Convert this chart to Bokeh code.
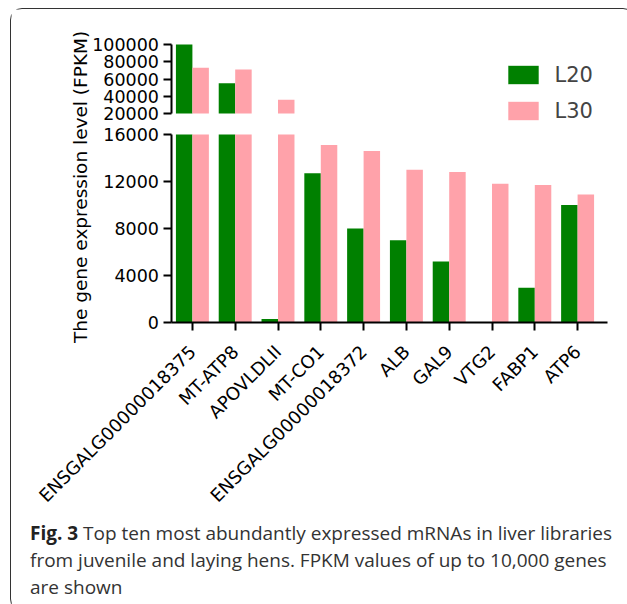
import numpy as np
from bokeh.plotting import figure
from bokeh.models import (Range1d, FixedTicker, Legend, LegendItem, Div, LinearAxis,
                          ColumnDataSource, Label, BasicTickFormatter)
from bokeh.layouts import column
from bokeh.transform import dodge
from bokeh.embed import file_html
from bokeh.resources import INLINE

# ---------------- data ----------------
genes = ["ENSGALG00000018375", "MT-ATP8", "APOVLDLII", "MT-CO1", "ENSGALG00000018372",
         "ALB", "GAL9", "VTG2", "FABP1", "ATP6"]
l20 = [100000, 55000, 300, 12700, 8000, 7000, 5200, 0, 2950, 10000]
l30 = [73000, 71000, 36000, 15100, 14600, 13000, 12800, 11800, 11700, 10900]
series = ["L20", "L30"]
lower_ticks = [0, 4000, 8000, 12000, 16000]
upper_ticks = [20000, 40000, 60000, 80000, 100000]
y_title = "The gene expression level  (FPKM)"
caption_bold = "Fig. 3"
caption_lines = ["Top ten most abundantly expressed mRNAs in liver libraries",
                 "from juvenile and laying hens. FPKM values of up to 10,000 genes",
                 "are shown"]

# ---------------- style / layout constants ----------------
GREEN = "#008000"
PINK = "#ffa2aa"
FONT = "DejaVu Sans"
BREAK_LOW, BREAK_HIGH, TOP = 16000, 20000, 100000

FIG_W, FIG_H = 613, 506
MB_LEFT, MB_TOP, MB_BOTTOM = 20, 10, 6
FRAME_H = FIG_H - MB_TOP - MB_BOTTOM
FRAME_W = 580
MB_RIGHT = FIG_W - MB_LEFT - FRAME_W
PX_PER_CAT = 42.8
AXIS_PX = 171 - 11.5 - MB_LEFT                  # px from frame left to the y axis
X_START = -AXIS_PX / PX_PER_CAT
X_END = X_START + FRAME_W / PX_PER_CAT
# vertical positions (px from frame top) of the axis break points
PX_TOP, PX_20K, PX_16K, PX_ZERO = 25, 94, 115, 303

low_scale = BREAK_LOW / (PX_ZERO - PX_16K)
low_range = Range1d(-(FRAME_H - PX_ZERO) * low_scale, PX_ZERO * low_scale)
up_scale = (TOP - BREAK_HIGH) / (PX_20K - PX_TOP)
up_range = Range1d(TOP - (FRAME_H - PX_TOP) * up_scale, TOP + PX_TOP * up_scale)

xs = [i + 0.5 for i in range(len(genes))]

p = figure(width=FIG_W, height=FIG_H, x_range=Range1d(X_START, X_END), y_range=low_range,
           output_backend="svg", toolbar_location=None,
           x_axis_location="below", y_axis_location=None,
           min_border_left=MB_LEFT, min_border_right=MB_RIGHT,
           min_border_top=MB_TOP, min_border_bottom=MB_BOTTOM)
p.extra_y_ranges = {"upper": up_range}
p.outline_line_color = None
p.grid.grid_line_color = None
p.background_fill_color = "white"
p.border_fill_color = "white"

W = 0.385
OFF = W / 2

low_src = ColumnDataSource(dict(x=xs,
                                l20=np.minimum(l20, BREAK_LOW),
                                l30=np.minimum(l30, BREAK_LOW)))
up20 = [(x, v) for x, v in zip(xs, l20) if v > BREAK_HIGH]
up30 = [(x, v) for x, v in zip(xs, l30) if v > BREAK_HIGH]
up20_src = ColumnDataSource(dict(x=[a for a, _ in up20], top=[v for _, v in up20]))
up30_src = ColumnDataSource(dict(x=[a for a, _ in up30], top=[v for _, v in up30]))

r20 = p.vbar(x=dodge("x", -OFF), top="l20", bottom=0, width=W,
             source=low_src, fill_color=GREEN, line_color=None)
r30 = p.vbar(x=dodge("x", OFF), top="l30", bottom=0, width=W,
             source=low_src, fill_color=PINK, line_color=None)
p.vbar(x=dodge("x", -OFF), top="top", bottom=BREAK_HIGH, width=W, source=up20_src,
       fill_color=GREEN, line_color=None, y_range_name="upper")
p.vbar(x=dodge("x", OFF), top="top", bottom=BREAK_HIGH, width=W, source=up30_src,
       fill_color=PINK, line_color=None, y_range_name="upper")


def style_axis(ax, size="17.5px", standoff=4):
    ax.axis_line_width = 2
    ax.axis_line_color = "black"
    ax.major_tick_line_width = 2
    ax.major_tick_line_color = "black"
    ax.major_tick_out = 8
    ax.major_tick_in = 0
    ax.minor_tick_line_color = None
    ax.major_label_text_font = FONT
    ax.major_label_text_font_size = size
    ax.major_label_text_color = "black"
    ax.major_label_standoff = standoff


ax_low = LinearAxis(ticker=FixedTicker(ticks=lower_ticks), bounds=(0, BREAK_LOW),
                    fixed_location=0, formatter=BasicTickFormatter(use_scientific=False))
ax_up = LinearAxis(y_range_name="upper", ticker=FixedTicker(ticks=upper_ticks),
                   bounds=(BREAK_HIGH, TOP), fixed_location=0,
                   formatter=BasicTickFormatter(use_scientific=False))
for ax in (ax_low, ax_up):
    style_axis(ax)
p.add_layout(ax_low, "left")
p.add_layout(ax_up, "left")

xa = p.xaxis[0]
style_axis(xa, "18px", 18)
xa.fixed_location = 0
xa.ticker = FixedTicker(ticks=xs)
xa.major_label_overrides = {x: g for x, g in zip(xs, genes)}
xa.major_label_orientation = np.pi / 4
xa.bounds = (0, len(genes) + 0.2)

# y-axis title spanning both segments (page x ~80, y ~184)
p.add_layout(Label(x=X_START + (80 - 11.5 - MB_LEFT) / PX_PER_CAT,
                   y=(PX_ZERO - (184 - 9.5 - MB_TOP)) * low_scale,
                   text=y_title, angle=90, angle_units="deg",
                   text_align="center", text_baseline="middle", text_font=FONT,
                   text_font_size="18.5px", text_color="black"))

# legend: box top-left at page (504, 65), bottom at page 123
legend = Legend(items=[LegendItem(label=series[0], renderers=[r20]),
                       LegendItem(label=series[1], renderers=[r30])],
                location=(504 - 11.5 - MB_LEFT, FRAME_H - (123 - 9.5 - MB_TOP)),
                padding=0, margin=0, spacing=12,
                glyph_width=38, glyph_height=23, label_standoff=13,
                label_text_font=FONT, label_text_font_size="21px",
                border_line_color=None, background_fill_alpha=0)
p.add_layout(legend)

# ---------------- caption ----------------
cap_html = ("<div style='padding-left:14px'><b style='color:#222'>" + caption_bold + "</b> "
            + caption_lines[0] + "<br>" + caption_lines[1] + "<br>" + caption_lines[2] + "</div>")
cap = Div(text=cap_html, width=FIG_W, height=85,
          styles={"font-family": "Open Sans", "font-size": "19px", "line-height": "27px",
                  "color": "#333", "white-space": "nowrap"})

layout = column(p, cap,
                styles={"border": "1.5px solid #333", "border-radius": "12px",
                        "margin-left": "10px", "margin-top": "8px"})

open("out.html", "w").write(file_html(layout, INLINE))
